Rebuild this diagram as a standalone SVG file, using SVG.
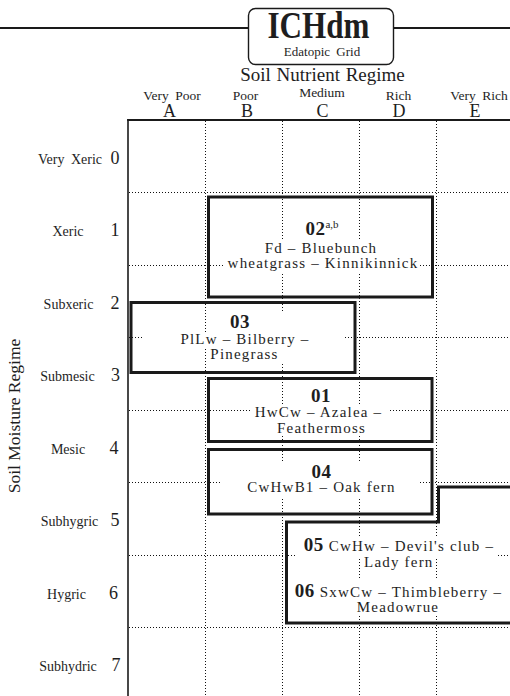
<svg xmlns="http://www.w3.org/2000/svg" width="510" height="696" viewBox="0 0 510 696">
<style>
text{font-family:"Liberation Serif","Times New Roman",serif;fill:#1e1e1e}
.grid line{stroke:#111;stroke-width:1;stroke-dasharray:1 2}
.box{fill:none;stroke:#1a1a1a;stroke-width:3}
.t{font-size:15px;letter-spacing:1.2px;text-anchor:middle}
.n{font-weight:bold;font-size:19px;letter-spacing:0.5px}
.ko{fill:#fff}
.row{font-size:14px;text-anchor:middle}
.dig{font-size:18px;text-anchor:middle}
.col{font-size:13.5px;text-anchor:middle;word-spacing:3px}
.let{font-size:18px;text-anchor:middle}
</style>
<rect width="510" height="696" fill="#fff"/>
<g id="header">
<line x1="0" y1="28" x2="248" y2="28" stroke="#1a1a1a" stroke-width="2"/>
<line x1="394" y1="28" x2="510" y2="28" stroke="#1a1a1a" stroke-width="2"/>
<rect x="248.5" y="8.5" width="145" height="56" rx="7" fill="#fff" stroke="#1a1a1a" stroke-width="1.4"/>
<text x="318.5" y="38" font-size="37" font-weight="bold" text-anchor="middle" textLength="102" lengthAdjust="spacingAndGlyphs">ICHdm</text>
<text x="322" y="55.5" font-size="13" text-anchor="middle" word-spacing="3">Edatopic Grid</text>
<text x="322.5" y="81" font-size="19" text-anchor="middle" word-spacing="1">Soil Nutrient Regime</text>
</g>
<g id="column-labels">
<text class="col" x="172" y="100">Very Poor</text>
<text class="col" x="245.5" y="100">Poor</text>
<text class="col" x="322" y="97">Medium</text>
<text class="col" x="398.5" y="100">Rich</text>
<text class="col" x="479" y="100">Very Rich</text>
<text class="let" x="169.5" y="117">A</text>
<text class="let" x="247" y="117">B</text>
<text class="let" x="322.5" y="117">C</text>
<text class="let" x="399" y="117">D</text>
<text class="let" x="475" y="117">E</text>
</g>
<g id="row-labels">
<text transform="translate(20,416) rotate(-90)" font-size="17.5" text-anchor="middle">Soil Moisture Regime</text>
<text class="row" x="70" y="163.5" word-spacing="3">Very Xeric</text>
<text class="row" x="68" y="236">Xeric</text>
<text class="row" x="68.5" y="308.5">Subxeric</text>
<text class="row" x="67.5" y="381">Submesic</text>
<text class="row" x="68" y="453.5">Mesic</text>
<text class="row" x="69.5" y="526">Subhygric</text>
<text class="row" x="66.5" y="598.5">Hygric</text>
<text class="row" x="68" y="671">Subhydric</text>
<text class="dig" x="115" y="163.5">0</text>
<text class="dig" x="115" y="236">1</text>
<text class="dig" x="115" y="308.5">2</text>
<text class="dig" x="115.5" y="381">3</text>
<text class="dig" x="114" y="453.5">4</text>
<text class="dig" x="115" y="526">5</text>
<text class="dig" x="113.5" y="598.5">6</text>
<text class="dig" x="116" y="671">7</text>
</g>
<g id="grid" class="grid">
<line x1="205.5" y1="121" x2="205.5" y2="696"/>
<line x1="282.5" y1="121" x2="282.5" y2="696"/>
<line x1="359.5" y1="121" x2="359.5" y2="696"/>
<line x1="436.5" y1="121" x2="436.5" y2="696"/>
<line x1="129" y1="192.5" x2="510" y2="192.5"/>
<line x1="129" y1="265.5" x2="510" y2="265.5"/>
<line x1="129" y1="337.5" x2="510" y2="337.5"/>
<line x1="129" y1="410.5" x2="510" y2="410.5"/>
<line x1="129" y1="482.5" x2="510" y2="482.5"/>
<line x1="129" y1="555.5" x2="510" y2="555.5"/>
<line x1="129" y1="627.5" x2="510" y2="627.5"/>
</g>
<g id="axes">
<line x1="128" y1="119" x2="128" y2="696" stroke="#1a1a1a" stroke-width="1.6"/>
<line x1="127.2" y1="120" x2="510" y2="120" stroke="#1a1a1a" stroke-width="1.8"/>
</g>
<g id="node-02">
<rect class="ko" x="262" y="240" width="117" height="16"/>
<rect class="ko" x="225" y="256" width="195" height="16"/>
<rect class="box" x="208.5" y="197" width="224" height="100"/>
<text class="t" x="322" y="235"><tspan class="n">02</tspan><tspan font-size="11" letter-spacing="0" dy="-7">a,b</tspan></text>
<text class="t" x="321" y="252.7">Fd – Bluebunch</text>
<text class="t" x="323" y="268">wheatgrass – Kinnikinnick</text>
</g>
<g id="node-03">
<rect class="ko" x="212" y="313" width="73" height="19"/>
<rect class="ko" x="142" y="332" width="201" height="16"/>
<rect class="ko" x="209" y="348" width="76" height="15"/>
<rect class="box" x="131" y="302.5" width="224" height="70"/>
<text class="t" x="240" y="328"><tspan class="n">03</tspan></text>
<text class="t" x="245" y="344">PlLw – Bilberry –</text>
<text class="t" x="244.5" y="359">Pinegrass</text>
</g>
<g id="node-01">
<rect class="ko" x="250" y="405" width="138" height="16"/>
<rect class="ko" x="274" y="421" width="94" height="15"/>
<rect class="box" x="208.5" y="378.5" width="223.5" height="63"/>
<text class="t" x="321" y="402"><tspan class="n">01</tspan></text>
<text class="t" x="318.5" y="417">HwCw – Azalea –</text>
<text class="t" x="321.5" y="432.7">Feathermoss</text>
</g>
<g id="node-04">
<rect class="ko" x="220" y="463" width="200" height="34"/>
<rect class="box" x="208.5" y="449.5" width="223.5" height="64.5"/>
<text class="t" x="321.5" y="477.5"><tspan class="n">04</tspan></text>
<text class="t" x="321.5" y="492.3">CwHwB1 – Oak fern</text>
</g>
<g id="node-05-06">
<rect class="ko" x="295" y="537" width="203" height="20"/>
<rect class="ko" x="362" y="557" width="72" height="13"/>
<rect class="ko" x="292" y="580" width="212" height="20"/>
<rect class="ko" x="355" y="600" width="85" height="15"/>
<path class="box" d="M286.5 522 H438.5 V487 H513 V623 H286.5 Z"/>
<text class="t" x="399" y="551"><tspan class="n">05</tspan> CwHw – Devil's club –</text>
<text class="t" x="398.8" y="566.7">Lady fern</text>
<text class="t" x="398.5" y="596.7"><tspan class="n">06</tspan> SxwCw – Thimbleberry –</text>
<text class="t" x="398" y="611.7">Meadowrue</text>
</g>
</svg>
